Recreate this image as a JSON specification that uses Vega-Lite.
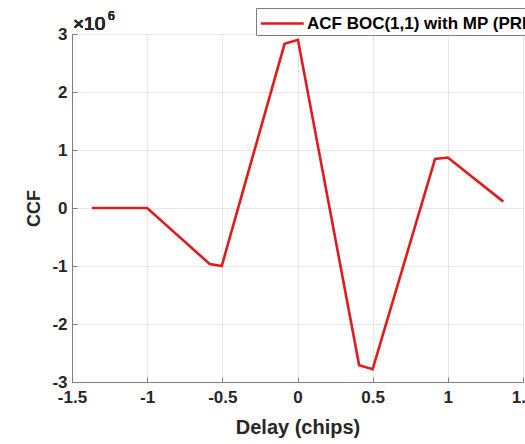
{
  "$schema": "https://vega.github.io/schema/vega-lite/v6.json",
  "width": 451,
  "height": 348,
  "autosize": {"type": "none"},
  "padding": {"left": 72, "top": 34, "right": 2, "bottom": 62},
  "background": "white",
  "config": {
    "view": {"stroke": "#7f7f7f", "strokeWidth": 1},
    "axis": {
      "labelFont": "Liberation Sans",
      "labelFontSize": 17,
      "labelFontWeight": "bold",
      "labelColor": "#262626",
      "labelFlush": false,
      "labelOverlap": false,
      "titleFont": "Liberation Sans",
      "titleFontWeight": "bold",
      "titleColor": "#262626",
      "domainColor": "#7f7f7f",
      "tickColor": "#7f7f7f",
      "tickSize": -5,
      "gridColor": "#e6e6e6",
      "gridWidth": 1
    }
  },
  "data": {
    "values": [
      {"delay": -1.367, "ccf": 0, "series": "ACF BOC(1,1) with MP (PRN 1)"},
      {"delay": -1.0, "ccf": 0, "series": "ACF BOC(1,1) with MP (PRN 1)"},
      {"delay": -0.584, "ccf": -966000, "series": "ACF BOC(1,1) with MP (PRN 1)"},
      {"delay": -0.504, "ccf": -1000000, "series": "ACF BOC(1,1) with MP (PRN 1)"},
      {"delay": -0.086, "ccf": 2830000, "series": "ACF BOC(1,1) with MP (PRN 1)"},
      {"delay": 0.003, "ccf": 2900000, "series": "ACF BOC(1,1) with MP (PRN 1)"},
      {"delay": 0.41, "ccf": -2710000, "series": "ACF BOC(1,1) with MP (PRN 1)"},
      {"delay": 0.5, "ccf": -2780000, "series": "ACF BOC(1,1) with MP (PRN 1)"},
      {"delay": 0.915, "ccf": 845000, "series": "ACF BOC(1,1) with MP (PRN 1)"},
      {"delay": 1.0, "ccf": 870000, "series": "ACF BOC(1,1) with MP (PRN 1)"},
      {"delay": 1.369, "ccf": 110000, "series": "ACF BOC(1,1) with MP (PRN 1)"}
    ]
  },
  "layer": [
    {
      "mark": {"type": "line", "strokeWidth": 2.6, "clip": false},
      "encoding": {
        "x": {
          "field": "delay",
          "type": "quantitative",
          "title": "Delay (chips)",
          "scale": {"domain": [-1.5, 1.5], "nice": false, "zero": false},
          "axis": {
            "values": [-1.5, -1, -0.5, 0, 0.5, 1, 1.5],
            "labelExpr": "datum.value + ''",
            "labelPadding": 12,
            "titleFontSize": 20,
            "titlePadding": 12
          }
        },
        "y": {
          "field": "ccf",
          "type": "quantitative",
          "title": "CCF",
          "scale": {"domain": [-3000000, 3000000], "nice": false},
          "axis": {
            "values": [-3000000, -2000000, -1000000, 0, 1000000, 2000000, 3000000],
            "labelExpr": "(datum.value / 1000000) + ''",
            "labelPadding": 10,
            "titleFontSize": 18,
            "titlePadding": 8
          }
        },
        "color": {
          "field": "series",
          "type": "nominal",
          "scale": {"range": ["#e31a1c"]},
          "legend": {
            "title": null,
            "orient": "none",
            "legendX": 184,
            "legendY": -26,
            "symbolType": "M-1,0H3",
            "symbolSize": 462,
            "symbolStrokeWidth": 2.6,
            "symbolOffset": 0,
            "labelOffset": 23,
            "labelFont": "Liberation Sans",
            "labelFontSize": 17,
            "labelFontWeight": "bold",
            "labelColor": "#000000",
            "labelLimit": 400,
            "strokeColor": "#7f7f7f",
            "fillColor": "white",
            "padding": 3
          }
        }
      }
    },
    {
      "mark": {
        "type": "text",
        "text": "×10",
        "align": "left",
        "baseline": "alphabetic",
        "dx": 1,
        "dy": -4,
        "font": "Liberation Sans",
        "fontSize": 19,
        "color": "#262626"
      },
      "encoding": {
        "x": {"datum": -1.5, "type": "quantitative"},
        "y": {"datum": 3000000, "type": "quantitative"}
      }
    },
    {
      "mark": {
        "type": "text",
        "text": "6",
        "align": "left",
        "baseline": "alphabetic",
        "dx": 36,
        "dy": -14,
        "font": "Liberation Sans",
        "fontSize": 12,
        "color": "#262626"
      },
      "encoding": {
        "x": {"datum": -1.5, "type": "quantitative"},
        "y": {"datum": 3000000, "type": "quantitative"}
      }
    }
  ]
}
